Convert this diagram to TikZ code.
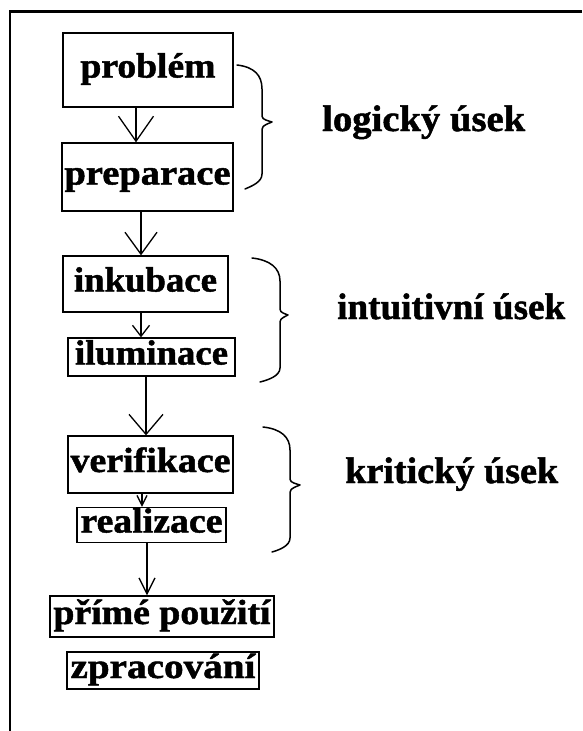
\documentclass[tikz,border=0pt]{standalone}
\usepackage{fontspec}
\setmainfont{Liberation Serif}[BoldFeatures={FakeBold=1.3}]
\usetikzlibrary{arrows.meta}
% stretch a word horizontally to a given width, keeping its height
\newcommand\wtext[2]{\resizebox{#1pt}{\height}{#2}}
\tikzset{
  stagebox/.style={draw, line width=1.3pt, inner sep=0pt, text height=25pt, text depth=10pt,
    font=\fontsize{35}{35}\selectfont\bfseries},
  grouplabel/.style={anchor=base west, inner sep=0pt, font=\fontsize{37}{37}\selectfont\bfseries},
  flow/.style={line width=1.3pt},
  brace/.style={line width=1.5pt, line join=round, line cap=round},
  frame/.style={line width=2.4pt}
}
\begin{document}
\begin{tikzpicture}[x=1pt,y=-1pt]
\useasboundingbox (0,0) rectangle (582,731);
\fill[white] (0,0) rectangle (582,731);

% outer frame (top and left edges)
\draw[frame] (582,11.5) -- (10,11.5) -- (10,731);

% stages
\node[stagebox, minimum width=170pt, minimum height=74pt] (prob) at (148,70) {\wtext{135}{problém}};
\node[stagebox, minimum width=171pt, minimum height=68pt] (prep) at (147.5,177) {\wtext{166}{preparace}};
\node[stagebox, minimum width=165pt, minimum height=56pt] (inku) at (145.5,284) {\wtext{143}{inkubace}};
\node[stagebox, minimum width=167pt, minimum height=38pt] (ilum) at (151.5,357) {\wtext{153}{iluminace}};
\node[stagebox, minimum width=165pt, minimum height=57pt] (veri) at (150.5,464.5) {\wtext{160}{verifikace}};
\node[stagebox, minimum width=149pt, minimum height=32pt] (real) at (151.5,525) {\wtext{142}{realizace}};
\node[stagebox, minimum width=224pt, minimum height=41pt] (prim) at (162,616.5) {\wtext{217}{přímé použití}};
\node[stagebox, minimum width=192pt, minimum height=37pt] (zpra) at (163,670.5) {\wtext{185}{zpracování}};

% x positions of the vertical connectors
\coordinate (c1) at (136,0);
\coordinate (c2) at (141,0);
\coordinate (c3) at (141,0);
\coordinate (c4) at (146,0);
\coordinate (c5) at (142,0);
\coordinate (c6) at (147,0);

\draw[flow, -{Straight Barb[length=25pt,width=35pt]}] (prob.south -| c1) -- (prep.north -| c1);
\draw[flow, -{Straight Barb[length=22pt,width=32pt]}] (prep.south -| c2) -- (inku.north -| c2);
\draw[flow, -{Straight Barb[length=11pt,width=17pt]}] (inku.south -| c3) -- (ilum.north -| c3);
\draw[flow, -{Straight Barb[length=20pt,width=34pt]}] (ilum.south -| c4) -- (veri.north -| c4);
\draw[flow, -{Straight Barb[length=10pt,width=10pt]}] (veri.south -| c5) -- (real.north -| c5);
\draw[flow, -{Straight Barb[length=16pt,width=16pt]}] (real.south -| c6) -- (prim.north -| c6);

% braces
\draw[brace] (237,65) .. controls (254,67) and (262,75) .. (262,89) -- (262,113)
  .. controls (262,119) .. (272,122) .. controls (262,126) .. (262,133) -- (262,174)
  .. controls (262,182) and (252,186) .. (245,189);
\draw[brace] (252,258) .. controls (270,260) and (280,268) .. (280,281) -- (280,306)
  .. controls (280,312) .. (288,315) .. controls (280,319) .. (280,325) -- (280,368)
  .. controls (280,376) and (268,380) .. (260,382);
\draw[brace] (263,427) .. controls (281,429) and (290,437) .. (290,450) -- (290,476)
  .. controls (290,482) .. (300,485) .. controls (290,489) .. (290,496) -- (290,538)
  .. controls (290,546) and (279,550) .. (272,552);

% group labels
\node[grouplabel] (lg) at (322,131) {\wtext{203}{logický úsek}};
\node[grouplabel] (in) at (337,319) {\wtext{228}{intuitivní úsek}};
\node[grouplabel] (kr) at (345,483) {\wtext{213}{kritický úsek}};
\end{tikzpicture}
\end{document}
